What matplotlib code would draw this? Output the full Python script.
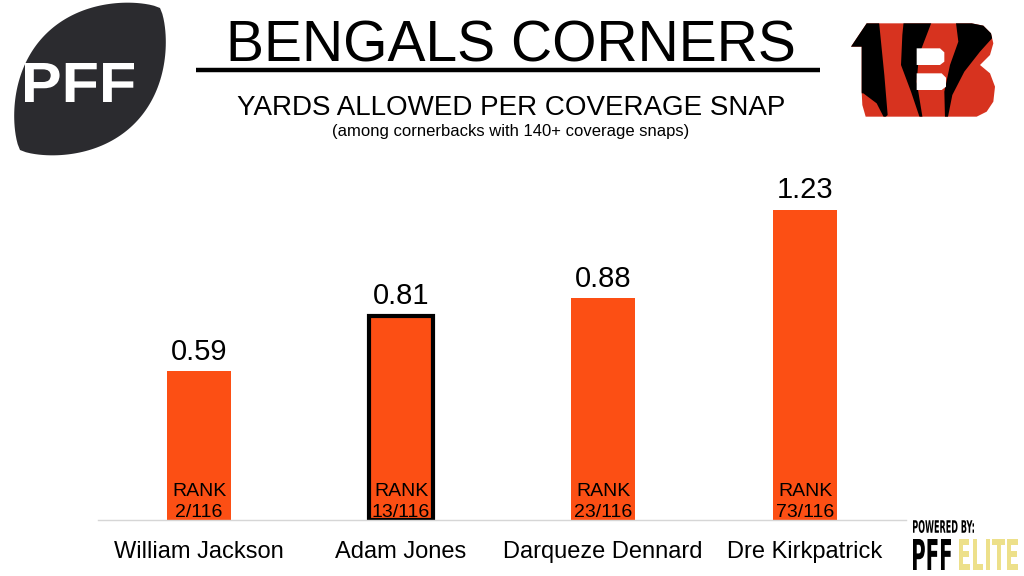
import matplotlib
matplotlib.use("Agg")
import matplotlib.pyplot as plt
import numpy as np
from matplotlib.textpath import TextPath
from matplotlib.font_manager import FontProperties
from matplotlib.patches import PathPatch, Polygon
from matplotlib.transforms import Affine2D

plt.rcParams['font.family'] = ['Liberation Sans', 'DejaVu Sans']

# data
players = ['William Jackson', 'Adam Jones', 'Darqueze Dennard', 'Dre Kirkpatrick']
yards_per_snap = [0.59, 0.81, 0.88, 1.23]
ranks = ['2/116', '13/116', '23/116', '73/116']
highlight = 'Adam Jones'

bar_color = '#FC4F14'
bengal_red = '#D7331F'

fig = plt.figure(figsize=(10.24, 5.76), dpi=100)

# main bar chart
ax = fig.add_axes([98 / 1024, 56 / 576, 808 / 1024, 360 / 576])
x = np.arange(len(players))
edges = ['black' if p == highlight else bar_color for p in players]
widths = [3.0 if p == highlight else 0 for p in players]
ax.bar(x, yards_per_snap, width=0.317, color=bar_color, edgecolor=edges, linewidth=widths)
ax.set_xlim(-0.5, len(players) - 0.5)
ax.set_ylim(0, 360 / 252)

for xi, v, r in zip(x, yards_per_snap, ranks):
    ax.annotate(f'{v:.2f}', (xi, v), xytext=(0, 4), textcoords='offset points',
                ha='center', va='bottom', fontsize=21)
    ax.annotate(f'RANK\n{r}', (xi, 0), xytext=(0, -1), textcoords='offset points',
                ha='center', va='bottom', fontsize=14, linespacing=1.3)

ax.set_xticks(x)
ax.set_xticklabels(players, fontsize=17)
ax.tick_params(axis='x', length=0, pad=15)
ax.set_yticks([])
for s in ['top', 'right', 'left']:
    ax.spines[s].set_visible(False)
ax.spines['bottom'].set_color('#d6d6d6')
ax.spines['bottom'].set_linewidth(1)

# decoration layer in pixel coordinates
deco = fig.add_axes([0, 0, 1, 1], zorder=5)
deco.set_xlim(0, 1024)
deco.set_ylim(576, 0)
deco.axis('off')
deco.patch.set_alpha(0)

deco.text(511, 62, 'BENGALS CORNERS', ha='center', va='baseline', fontsize=41)
deco.plot([196, 820], [70, 70], color='black', lw=3.2, solid_capstyle='butt')
deco.text(511, 115, 'YARDS ALLOWED PER COVERAGE SNAP', ha='center', va='baseline', fontsize=20)
deco.text(511, 136, '(among cornerbacks with 140+ coverage snaps)', ha='center', va='baseline', fontsize=12)


def fit_text(s, x0, y0, x1, y1, color, weight='bold', family='Liberation Sans', z=6):
    tp = TextPath((0, 0), s, size=1, prop=FontProperties(family=family, weight=weight))
    ext = tp.get_extents()
    sx = (x1 - x0) / ext.width
    sy = (y1 - y0) / ext.height
    tr = Affine2D().translate(-ext.x0, -ext.y0).scale(sx, -sy).translate(x0, y1)
    patch = PathPatch(tr.transform_path(tp), color=color, lw=0, zorder=z)
    deco.add_patch(patch)
    return patch


# PFF football logo
c = np.array([90.0, 79.0])
u = np.array([140.0, -142.0])
half = np.linalg.norm(u) / 2
u = u / np.linalg.norm(u)
n = np.array([-u[1], u[0]])
t = np.linspace(-1, 1, 80)
w = 63 * (1 - t ** 2) ** 0.8
upper = c + np.outer(t * half, u) + np.outer(w, n)
lower = c + np.outer(t[::-1] * half, u) - np.outer(w[::-1], n)
deco.add_patch(Polygon(np.vstack([upper, lower]), closed=True, color='#2b2b2f', lw=0, zorder=5))
fit_text('PFF', 25, 63, 134, 102, 'white')


# Bengals logo, drawn in a 3x local grid
def bx(pts):
    return [[845 + px / 3, 15 + py / 3] for px, py in pts]


outer = Polygon(bx([(65, 25), (380, 25), (415, 32), (438, 55), (445, 85), (435, 120), (405, 150),
                    (435, 175), (450, 215), (445, 260), (425, 290), (395, 305), (62, 305),
                    (52, 270), (50, 230), (50, 95), (18, 95)]),
                closed=True, color=bengal_red, lw=0, zorder=6)
deco.add_patch(outer)
stripes = [
    [(0, 0), (100, 0), (108, 80), (118, 180), (128, 300), (118, 310), (95, 265), (55, 235), (0, 235)],
    [(178, 0), (268, 0), (245, 60), (222, 120), (215, 200), (233, 310), (225, 310), (198, 230),
     (168, 150), (172, 60)],
    [(330, 0), (430, 0), (450, 60), (405, 110), (358, 170), (322, 240), (308, 310), (300, 310),
     (298, 230), (315, 150), (340, 80)],
]
for pts in stripes:
    sp = Polygon(bx(pts), closed=True, color='black', lw=0, zorder=7)
    deco.add_patch(sp)
    sp.set_clip_path(outer)
holes = [
    [(215, 100), (285, 100), (298, 112), (298, 140), (285, 150), (215, 150)],
    [(215, 175), (290, 175), (303, 188), (303, 215), (290, 225), (215, 225)],
]
for pts in holes:
    deco.add_patch(Polygon(bx(pts), closed=True, color='white', lw=0, zorder=8))

# powered by badge
fit_text('POWERED BY:', 913, 520, 974, 533, 'black', family='Liberation Sans Narrow')
fit_text('PFF', 913, 539, 951, 570, 'black', family='Liberation Sans Narrow')
fit_text('ELITE', 959, 539, 1018, 570, '#EDE08A', family='Liberation Sans Narrow')

fig.savefig('out.png', dpi=100)
